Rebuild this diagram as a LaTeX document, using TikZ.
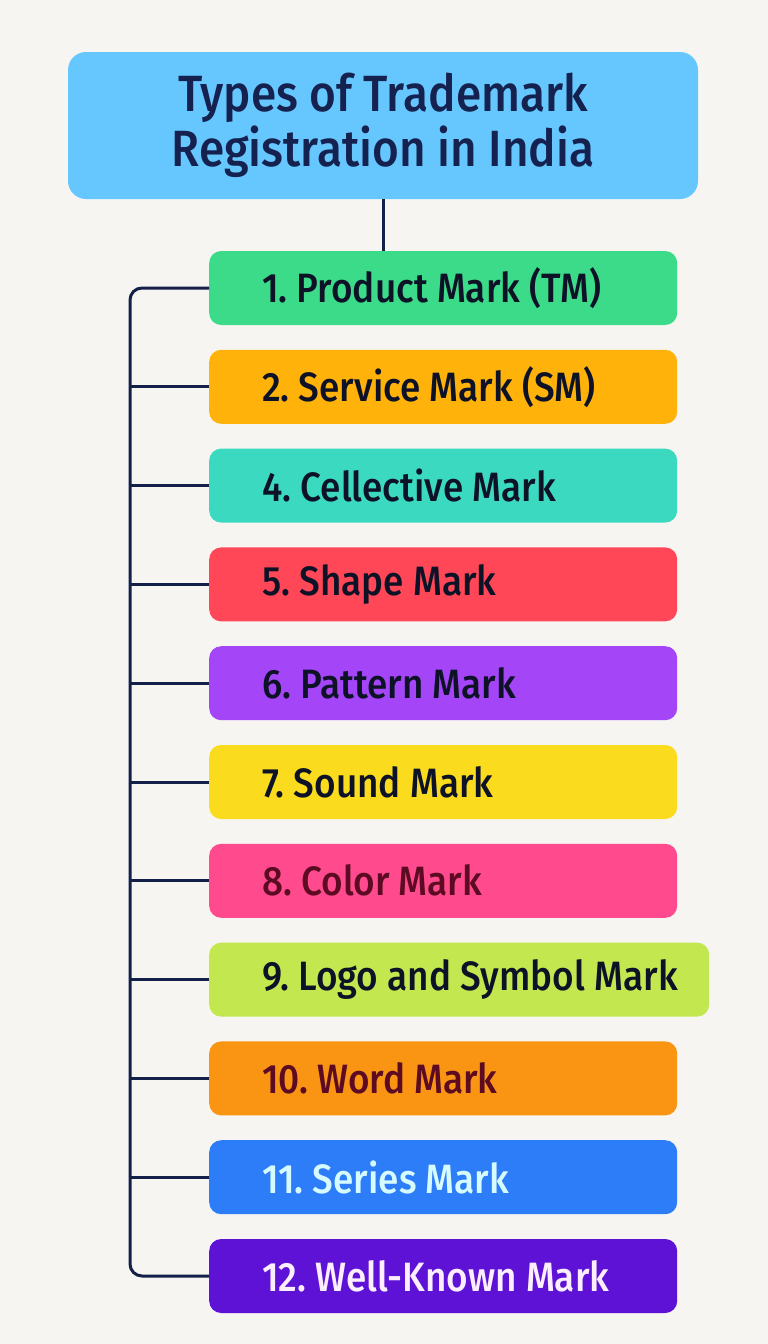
\documentclass[tikz,border=0pt]{standalone}
\usepackage{fontspec}
\setmainfont{Fira Sans}
\newfontfamily\headfont{Fira Sans Medium}[FakeStretch=0.9]
\newfontfamily\markfont{Fira Sans Medium}[FakeStretch=0.9]
\usetikzlibrary{positioning}
\frenchspacing

\definecolor{paper}{HTML}{F6F5F2}
\definecolor{skyblue}{HTML}{66C7FF}
\definecolor{navy}{HTML}{15224F}
\definecolor{wire}{HTML}{15204A}
\definecolor{ink}{HTML}{0D1226}
\definecolor{maroon}{HTML}{5C0B22}
\definecolor{icecyan}{HTML}{D5FBFF}
\definecolor{lilac}{HTML}{FBEEFF}
\definecolor{mkgreen}{HTML}{3BDB8A}
\definecolor{mkamber}{HTML}{FFB20A}
\definecolor{mkteal}{HTML}{3CD9C1}
\definecolor{mkred}{HTML}{FF4757}
\definecolor{mkpurple}{HTML}{A445F7}
\definecolor{mkyellow}{HTML}{FADB1E}
\definecolor{mkpink}{HTML}{FF4B8E}
\definecolor{mklime}{HTML}{C3E84F}
\definecolor{mkorange}{HTML}{FA9514}
\definecolor{mkblue}{HTML}{2D7CF8}
\definecolor{mkviolet}{HTML}{5E12D6}

\begin{document}
\begin{tikzpicture}[x=1pt,y=-1pt,
		titlebox/.style={fill=skyblue,rounded corners=18pt,minimum width=630pt,minimum height=147pt,text=navy,align=center,font=\headfont\fontsize{51}{55}\selectfont},
		markbox/.style={fill=#1,rounded corners=12pt,anchor=west,minimum height=74pt},
		marktext/.style={inner sep=0pt,font=\markfont\fontsize{41}{44}\selectfont},
		link/.style={draw=wire,line width=3pt}]
		\fill[paper] (0,0) rectangle (768,1344);
		\node[titlebox] (title) at (383,125.5) {Types of Trademark\\Registration in India};
		\coordinate (spine) at (130,0);
		
		\foreach \n/\col/\txt/\w/\lbl [count=\i from 0] in {
				1/mkgreen/ink/468/1. Product Mark (TM),
				2/mkamber/ink/468/2. Service Mark (SM),
				4/mkteal/ink/468/4. Cellective Mark,
				5/mkred/ink/468/5. Shape Mark,
				6/mkpurple/ink/468/6. Pattern Mark,
				7/mkyellow/ink/468/7. Sound Mark,
				8/mkpink/maroon/468/8. Color Mark,
				9/mklime/ink/500/9. Logo and Symbol Mark,
				10/mkorange/maroon/468/10. Word Mark,
				11/mkblue/icecyan/468/11. Series Mark,
				12/mkviolet/lilac/468/12. Well-Known Mark}
		{
			\node[markbox=\col,minimum width=\w pt] (m\n) at (209,{288+98.8*\i}) {};
			\node[marktext,text=\txt,right=53pt of m\n.west] (t\n) {\lbl};
		}
		
		\draw[link] (title.south) -- (title.south |- m1.north);
		\draw[link,rounded corners=12pt] (m1.west) -| (spine |- m12.west) -- (m12.west);
		\foreach \n in {2,4,5,6,7,8,9,10,11}
			\draw[link] (m\n.west) -- (m\n.west -| spine);
	\end{tikzpicture}
\end{document}
